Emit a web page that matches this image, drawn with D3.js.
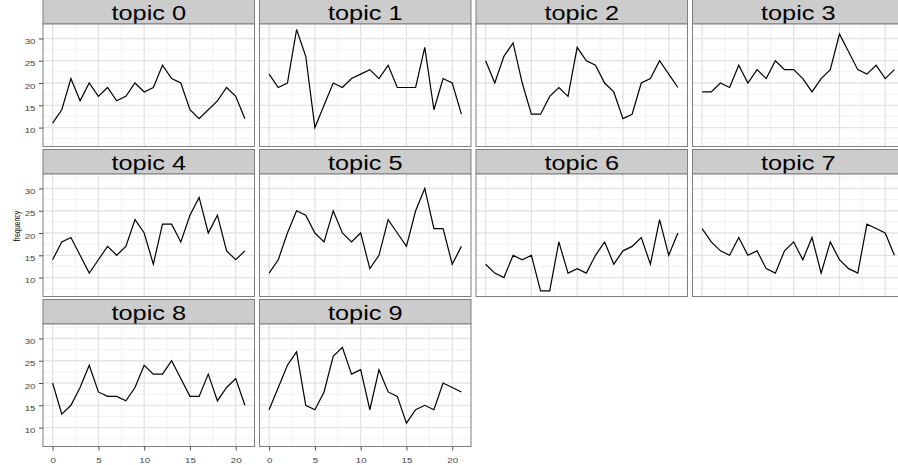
<!DOCTYPE html>
<html>
<head>
<meta charset="utf-8">
<script src="https://cdn.jsdelivr.net/npm/d3@7"></script>
<style>
  body { margin: 0; background: #fff; }
  svg { display: block; font-family: "Liberation Sans", Arial, sans-serif; }
</style>
</head>
<body>
<div id="chart"></div>
<script>

// data, one series per topic (x = 0..21)
const TOPICS = ["topic 0", "topic 1", "topic 2", "topic 3", "topic 4",
                "topic 5", "topic 6", "topic 7", "topic 8", "topic 9"];

const topic0 = [11, 14, 21, 16, 20, 17, 19, 16, 17, 20, 18, 19, 24, 21, 20, 14, 12, 14, 16, 19, 17, 12];
const topic1 = [22, 19, 20, 32, 26, 10, 15, 20, 19, 21, 22, 23, 21, 24, 19, 19, 19, 28, 14, 21, 20, 13];
const topic2 = [25, 20, 26, 29, 20, 13, 13, 17, 19, 17, 28, 25, 24, 20, 18, 12, 13, 20, 21, 25, 22, 19];
const topic3 = [18, 18, 20, 19, 24, 20, 23, 21, 25, 23, 23, 21, 18, 21, 23, 31, 27, 23, 22, 24, 21, 23];
const topic4 = [14, 18, 19, 15, 11, 14, 17, 15, 17, 23, 20, 13, 22, 22, 18, 24, 28, 20, 24, 16, 14, 16];
const topic5 = [11, 14, 20, 25, 24, 20, 18, 25, 20, 18, 20, 12, 15, 23, 20, 17, 25, 30, 21, 21, 13, 17];
const topic6 = [13, 11, 10, 15, 14, 15, 7, 7, 18, 11, 12, 11, 15, 18, 13, 16, 17, 19, 13, 23, 15, 20];
const topic7 = [21, 18, 16, 15, 19, 15, 16, 12, 11, 16, 18, 14, 19, 11, 18, 14, 12, 11, 22, 21, 20, 15];
const topic8 = [20, 13, 15, 19, 24, 18, 17, 17, 16, 19, 24, 22, 22, 25, 21, 17, 17, 22, 16, 19, 21, 15];
const topic9 = [14, 19, 24, 27, 15, 14, 18, 26, 28, 22, 23, 14, 23, 18, 17, 11, 14, 15, 14, 20, 19, 18];

const SERIES = [topic0, topic1, topic2, topic3, topic4, topic5, topic6, topic7, topic8, topic9];

const X_TICKS = [0, 5, 10, 15, 20];
const Y_TICKS = [10, 15, 20, 25, 30];
const X_MINOR = [2.5, 7.5, 12.5, 17.5];
const Y_MINOR = [7.5, 12.5, 17.5, 22.5, 27.5, 32.5];

// layout
const FRAME_WIDTH = 898;
const FRAME_HEIGHT = 465;
const NCOL = 4;
const LEFT = 43;
const TOP = -0.5;
const PANEL_W = 211.5;
const GAP_X = 5;
const ROW_STEP = 150;
const STRIP_H = 24.5;
const PLOT_H = 122.5;
// the original picture was stretched sideways, so its text is too
const STRETCH = 1.3;

const FRAME = d3.select("#chart")
  .append("svg")
    .attr("width", FRAME_WIDTH)
    .attr("height", FRAME_HEIGHT);

// ggplot style expansion: 5% on each side
const ALL = SERIES.flat();
const yMin = d3.min(ALL), yMax = d3.max(ALL);
const yPad = (yMax - yMin) * 0.05;
const xPad = 21 * 0.05;

const X_SCALE = d3.scaleLinear()
  .domain([-xPad, 21 + xPad])
  .range([0, PANEL_W]);

const Y_SCALE = d3.scaleLinear()
  .domain([yMin - yPad, yMax + yPad])
  .range([PLOT_H, 0]);

const line = d3.line()
  .x((d, i) => X_SCALE(i))
  .y((d) => Y_SCALE(d));

const nRows = Math.ceil(SERIES.length / NCOL);

// widen axis labels in place
function styleTicks(sel, dx, dy) {
  sel.selectAll("line").attr("stroke", "#4d4d4d");
  sel.selectAll("text")
    .attr("x", 0).attr("y", 0)
    .attr("transform", "translate(" + dx + "," + dy + ") scale(" + STRETCH + ",1)")
    .attr("font-size", "7.5px")
    .attr("font-family", "Liberation Sans, Arial, sans-serif")
    .attr("fill", "#444");
}

SERIES.forEach((vals, k) => {
  const col = k % NCOL;
  const row = Math.floor(k / NCOL);
  const px = LEFT + col * (PANEL_W + GAP_X);
  const py = TOP + row * ROW_STEP;

  const g = FRAME.append("g")
    .attr("transform", "translate(" + px + "," + py + ")");

  // strip
  g.append("rect")
    .attr("x", 0).attr("y", 0)
    .attr("width", PANEL_W).attr("height", STRIP_H)
    .attr("fill", "#cccccc")
    .attr("stroke", "#7f7f7f")
    .attr("stroke-width", 1);

  g.append("text")
    .attr("transform", "translate(" + (PANEL_W / 2) + "," + (STRIP_H - 3.8) + ") scale(" + STRETCH + ",1)")
    .attr("text-anchor", "middle")
    .attr("font-size", "19.5px")
    .attr("fill", "#000")
    .text(TOPICS[k]);

  const plot = g.append("g")
    .attr("transform", "translate(0," + STRIP_H + ")");

  plot.append("rect")
    .attr("width", PANEL_W).attr("height", PLOT_H)
    .attr("fill", "#fff");

  // minor grid
  plot.selectAll(".xminor").data(X_MINOR).enter().append("line")
    .attr("x1", (d) => X_SCALE(d)).attr("x2", (d) => X_SCALE(d))
    .attr("y1", 0).attr("y2", PLOT_H)
    .attr("stroke", "#f2f2f2").attr("stroke-width", 1);
  plot.selectAll(".yminor").data(Y_MINOR).enter().append("line")
    .attr("x1", 0).attr("x2", PANEL_W)
    .attr("y1", (d) => Y_SCALE(d)).attr("y2", (d) => Y_SCALE(d))
    .attr("stroke", "#f2f2f2").attr("stroke-width", 1);

  // major grid
  plot.selectAll(".xmajor").data(X_TICKS).enter().append("line")
    .attr("x1", (d) => X_SCALE(d)).attr("x2", (d) => X_SCALE(d))
    .attr("y1", 0).attr("y2", PLOT_H)
    .attr("stroke", "#e3e3e3").attr("stroke-width", 1.3);
  plot.selectAll(".ymajor").data(Y_TICKS).enter().append("line")
    .attr("x1", 0).attr("x2", PANEL_W)
    .attr("y1", (d) => Y_SCALE(d)).attr("y2", (d) => Y_SCALE(d))
    .attr("stroke", "#e3e3e3").attr("stroke-width", 1.3);

  // the series
  plot.append("path")
    .datum(vals)
    .attr("d", line)
    .attr("fill", "none")
    .attr("stroke", "#000")
    .attr("stroke-width", 1.2);

  // panel border
  plot.append("rect")
    .attr("width", PANEL_W).attr("height", PLOT_H)
    .attr("fill", "none")
    .attr("stroke", "#7f7f7f")
    .attr("stroke-width", 1);

  // y axis on first column
  if (col === 0) {
    const yAxis = plot.append("g")
      .call(d3.axisLeft(Y_SCALE).tickValues(Y_TICKS).tickSize(4));
    yAxis.select(".domain").remove();
    styleTicks(yAxis, -7.5, 2.6);
  }

  // x axis under the bottom row
  if (row === nRows - 1) {
    const xAxis = plot.append("g")
      .attr("transform", "translate(0," + PLOT_H + ")")
      .call(d3.axisBottom(X_SCALE).tickValues(X_TICKS).tickSize(4));
    xAxis.select(".domain").remove();
    styleTicks(xAxis, 0, 11);
  }
});

// y label
FRAME.append("text")
  .attr("transform", "translate(20,226) scale(" + STRETCH + ",1) rotate(-90)")
  .attr("text-anchor", "middle")
  .attr("font-size", "7px")
  .attr("fill", "#000")
  .text("frequency");

</script>
</body>
</html>
